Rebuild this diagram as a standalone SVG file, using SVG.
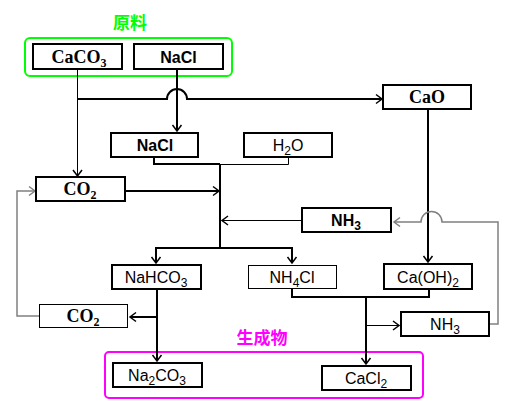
<svg xmlns="http://www.w3.org/2000/svg" width="519" height="401" viewBox="0 0 519 401">
<style>
.box{fill:#fff;stroke:#000;stroke-width:2}
.thin{fill:#fff;stroke:#000;stroke-width:1}
.t{font-family:"Liberation Sans",Arial,sans-serif;font-size:16px;font-weight:bold;text-anchor:middle;fill:#000}
.s{font-family:"Liberation Serif","Times New Roman",serif;font-size:18px;font-weight:bold;text-anchor:middle;fill:#000}
.n{font-family:"Liberation Sans",Arial,sans-serif;font-size:16px;text-anchor:middle;fill:#000}
.sub{font-size:12px}
.w2{fill:none;stroke:#000;stroke-width:2}
.w1{fill:none;stroke:#000;stroke-width:1}
.g{fill:none;stroke:#808080;stroke-width:1.5}
.cjk{font-family:"Noto Sans CJK SC","Noto Sans CJK JP",sans-serif;font-size:17px;font-weight:bold;text-anchor:middle}
</style>
<defs>
<marker id="a" markerUnits="userSpaceOnUse" markerWidth="10" markerHeight="12" refX="7" refY="6" orient="auto">
<path d="M1,1.5 L7,6 L1,10.5" fill="none" stroke="#000" stroke-width="1.5"/>
</marker>
<marker id="ag" markerUnits="userSpaceOnUse" markerWidth="10" markerHeight="12" refX="7" refY="6" orient="auto">
<path d="M1,1.5 L7,6 L1,10.5" fill="none" stroke="#808080" stroke-width="1.5"/>
</marker>
</defs>

<g id="group-raw">
<rect x="25" y="38" width="207" height="38" rx="5" fill="none" stroke="#00ff00" stroke-width="2"/>
<text class="cjk" x="130" y="29" fill="#00ff00">原料</text>
</g>
<g id="group-product">
<rect x="105" y="352" width="318" height="46" rx="4" fill="none" stroke="#ff00ff" stroke-width="2"/>
<text class="cjk" x="262" y="344" fill="#ff00ff">生成物</text>
</g>

<g id="connectors">
<path class="w1" d="M77.5,69 V176" marker-end="url(#a)"/>
<path class="w2" d="M77,99 H167 A10,10 0 0 1 187,99 H382" marker-end="url(#a)"/>
<path class="w2" d="M177,69 V131" marker-end="url(#a)"/>
<path class="w2" d="M428,109 V262" marker-end="url(#a)"/>
<path class="w2" d="M154,156 V164 H220"/>
<path class="w1" d="M220,164.5 H288.5 V157"/>
<path class="w2" d="M220,164 V248"/>
<path class="w2" d="M125,191 H219" marker-end="url(#a)"/>
<path class="w1" d="M302,220.5 H222" marker-end="url(#a)"/>
<path class="w2" d="M220,248 H156 V263" marker-end="url(#a)"/>
<path class="w2" d="M220,248 H292 V263" marker-end="url(#a)"/>
<path class="w2" d="M292,289 V297 H429 V289"/>
<path class="w2" d="M366,297 V364" marker-end="url(#a)"/>
<path class="w1" d="M366,325.5 H399" marker-end="url(#a)"/>
<path class="w2" d="M157,290 V361" marker-end="url(#a)"/>
<path class="w2" d="M157,317 H130" marker-end="url(#a)"/>
<path class="g" d="M39,316 H17 V191 H35" marker-end="url(#ag)"/>
<path class="g" d="M489,324 H498 V222 H442 A10.5,10.5 0 0 0 421,222 H394" marker-end="url(#ag)"/>
</g>

<g id="CaCO3"><rect class="box" x="33" y="44" width="89" height="25"/><text class="s" x="79" y="63">CaCO<tspan class="sub" dy="4">3</tspan></text></g>
<g id="NaCl-raw"><rect class="box" x="134" y="44" width="89" height="25"/><text class="t" x="178.5" y="63">NaCl</text></g>
<g id="CaO"><rect class="box" x="383" y="85" width="88" height="24"/><text class="s" x="427" y="103">CaO</text></g>
<g id="NaCl"><rect class="box" x="111" y="133" width="87" height="24"/><text class="t" x="155" y="151">NaCl</text></g>
<g id="H2O"><rect class="box" x="244" y="133" width="88" height="24"/><text class="n" x="288" y="151">H<tspan class="sub" dy="4">2</tspan><tspan dy="-4">O</tspan></text></g>
<g id="CO2-top"><rect class="box" x="36" y="177" width="89" height="24"/><text class="s" x="80" y="195">CO<tspan class="sub" dy="4">2</tspan></text></g>
<g id="NH3-top"><rect class="box" x="302" y="208" width="89" height="24"/><text class="t" x="346" y="226">NH<tspan class="sub" dy="4">3</tspan></text></g>
<g id="NaHCO3"><rect class="box" x="112" y="265" width="89" height="24"/><text class="n" x="156" y="283">NaHCO<tspan class="sub" dy="4">3</tspan></text></g>
<g id="NH4Cl"><rect class="thin" x="248.5" y="265.5" width="88" height="23"/><text class="n" x="292" y="283">NH<tspan class="sub" dy="4">4</tspan><tspan dy="-4">Cl</tspan></text></g>
<g id="CaOH2"><rect class="box" x="384" y="264" width="88" height="25"/><text class="n" x="428" y="283">Ca(OH)<tspan class="sub" dy="4">2</tspan></text></g>
<g id="CO2-bottom"><rect class="thin" x="39.5" y="304.5" width="88" height="23"/><text class="s" x="83" y="322">CO<tspan class="sub" dy="4">2</tspan></text></g>
<g id="NH3-bottom"><rect class="box" x="401" y="312" width="88" height="24"/><text class="n" x="445" y="330">NH<tspan class="sub" dy="4">3</tspan></text></g>
<g id="Na2CO3"><rect class="box" x="113" y="363" width="89" height="24"/><text class="n" x="157" y="381">Na<tspan class="sub" dy="4">2</tspan><tspan dy="-4">CO</tspan><tspan class="sub" dy="4">3</tspan></text></g>
<g id="CaCl2"><rect class="box" x="322" y="366" width="89" height="24"/><text class="n" x="366" y="384">CaCl<tspan class="sub" dy="4">2</tspan></text></g>
</svg>
